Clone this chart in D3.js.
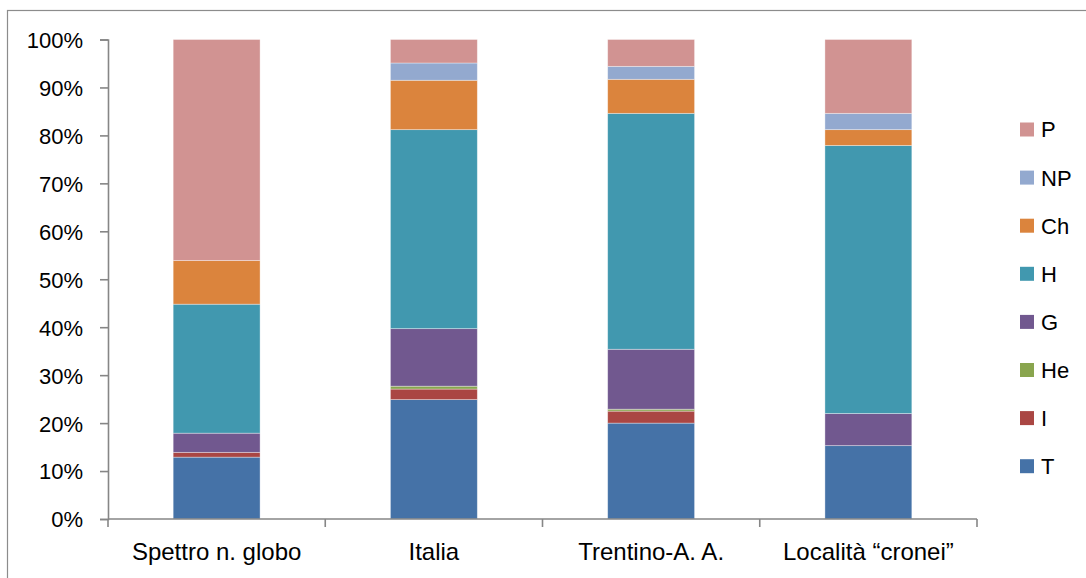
<!DOCTYPE html>
<html>
<head>
<meta charset="utf-8">
<script src="https://cdn.jsdelivr.net/npm/d3@7"></script>
<style>
  html, body { margin: 0; padding: 0; background: #fff; }
  svg text { font-family: "Liberation Sans", Arial, sans-serif; fill: #000; }
</style>
</head>
<body>
<svg id="chart" width="1086" height="578"></svg>
<script>
// Biological spectrum: share of each life form per area
const categories = ["Spettro n. globo", "Italia", "Trentino-A. A.", "Località “cronei”"];
const seriesNames = ["T", "I", "He", "G", "H", "Ch", "NP", "P"];
const T  = [12.9, 24.9, 20.0, 15.3];
const I  = [1.0, 2.2, 2.5, 0.0];
const He = [0.0, 0.6, 0.4, 0.0];
const G  = [4.0, 12.0, 12.5, 6.7];
const H  = [26.9, 41.5, 49.2, 55.9];
const Ch = [9.1, 10.3, 7.1, 3.3];
const NP = [0.0, 3.6, 2.7, 3.4];
const P  = [46.1, 4.9, 5.6, 15.4];
const yTicks = [0, 10, 20, 30, 40, 50, 60, 70, 80, 90, 100];

const colors = {
  T: "#4572A7", I: "#AA4643", He: "#89A54E", G: "#71588F",
  H: "#4198AF", Ch: "#DB843D", NP: "#93A9CF", P: "#D19392"
};

const valuesBySeries = { T, I, He, G, H, Ch, NP, P };
const rows = categories.map((c, i) => {
  const r = { cat: c };
  seriesNames.forEach(s => r[s] = valuesBySeries[s][i]);
  return r;
});
// each column is normalised to 100%
const layers = d3.stack().keys(seriesNames).offset(d3.stackOffsetExpand)(rows);

const svg = d3.select("#chart");

// outer frame
svg.append("rect")
  .attr("x", 7.5).attr("y", 10.5)
  .attr("width", 1200).attr("height", 700)
  .attr("fill", "none").attr("stroke", "#8c8c8c").attr("stroke-width", 1.2);

const x = d3.scaleBand().domain(categories).range([108, 977])
  .paddingInner(0.6).paddingOuter(0.3);
const y = d3.scaleLinear().domain([0, 1]).range([519, 39.5]);

// bars
svg.append("g").selectAll("g").data(layers).join("g")
  .attr("fill", d => colors[d.key])
  .selectAll("rect").data(d => d).join("rect")
  .attr("x", d => x(d.data.cat))
  .attr("width", x.bandwidth())
  .attr("y", d => y(d[1]))
  .attr("height", d => Math.max(0, y(d[0]) - y(d[1])))
  .attr("stroke", "rgba(255,255,255,0.45)")
  .attr("stroke-width", 0.8);

const axisColor = "#868686";

// y axis
const yAxis = d3.axisLeft(y.copy().domain([0, 100]))
  .tickValues(yTicks).tickSize(8).tickPadding(17)
  .tickFormat(d => d + "%");
const gy = svg.append("g").attr("transform", "translate(108,0)").call(yAxis);
gy.select(".domain").attr("stroke", axisColor).attr("stroke-width", 1.6);
gy.selectAll(".tick line").attr("stroke", axisColor).attr("stroke-width", 1.6);
gy.selectAll(".tick text").attr("font-size", 22).attr("font-family", "Liberation Sans, Arial, sans-serif")
  .attr("fill", "#000").attr("dy", "0.36em");

// x axis: tick marks sit on the category boundaries
const gx = svg.append("g").attr("transform", "translate(0,519)");
gx.append("line").attr("x1", 108).attr("x2", 977)
  .attr("stroke", axisColor).attr("stroke-width", 1.6);
const boundaries = categories.map(c => x(c) - (x.step() - x.bandwidth()) / 2);
boundaries.push(977);
gx.selectAll("line.tk").data(boundaries).join("line").attr("class", "tk")
  .attr("x1", d => d).attr("x2", d => d).attr("y1", 0).attr("y2", 8)
  .attr("stroke", axisColor).attr("stroke-width", 1.6);
gx.selectAll("text").data(categories).join("text")
  .attr("x", d => x(d) + x.bandwidth() / 2)
  .attr("y", 41)
  .attr("text-anchor", "middle")
  .attr("font-size", 24)
  .text(d => d);

// legend, top entry is the top of the stack
const legendOrder = seriesNames.slice().reverse();
const lg = svg.append("g").selectAll("g").data(legendOrder).join("g")
  .attr("transform", (d, i) => `translate(1020, ${129.5 + i * 48.1})`);
lg.append("rect").attr("x", 0).attr("y", -7).attr("width", 14).attr("height", 14)
  .attr("fill", d => colors[d]);
lg.append("text").attr("x", 21).attr("y", 0).attr("dy", "0.36em")
  .attr("font-size", 22).text(d => d);
</script>
</body>
</html>
